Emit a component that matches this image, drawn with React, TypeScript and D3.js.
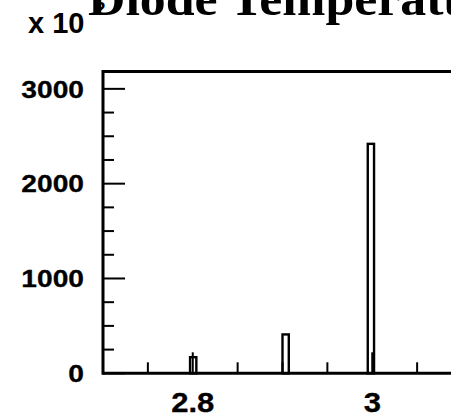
import React from "react";
import * as d3 from "d3";

const binLo = [2.797, 2.9, 2.995];
const binHi = [2.804, 2.907, 3.002];
const counts = [170, 410, 2420];
const xMajorTicks = [2.8, 3.0];
const xMinorTicks = [2.75, 2.85, 2.9, 2.95, 3.05];
const yMajorTicks = [0, 1000, 2000, 3000];
const yMinorTicks = [250, 500, 750, 1250, 1500, 1750, 2250, 2500, 2750];
const xLabels = ["2.8", "3"];
const yLabels = ["0", "1000", "2000", "3000"];
const title = "Diode Temperature";

const W = 451;
const H = 417;
const left = 103;
const right = 462;
const top = 71.5;
const bottom = 373.3;

export default function App() {
  const x = d3.scaleLinear().domain([2.7, 3.1]).range([left, right]);
  const y = d3.scaleLinear().domain([0, 3183]).range([bottom, top]);
  const sans = "'Liberation Sans', Arial, Helvetica, sans-serif";
  const serif = "'Liberation Serif', 'Times New Roman', serif";
  const sx = 1.15;
  return (
    <svg width={W} height={H} style={{ position: "absolute", left: 0, top: 0, background: "#fff" }}>
      <rect x={0} y={0} width={W} height={H} fill="#fff" />
      {/* bars */}
      {counts.map((c, i) => (
        <rect
          key={i}
          x={x(binLo[i])}
          y={y(c)}
          width={x(binHi[i]) - x(binLo[i])}
          height={y(0) - y(c)}
          fill="#fff"
          stroke="#000"
          strokeWidth={2.4}
        />
      ))}
      {/* x ticks */}
      {xMajorTicks.map((t, i) => (
        <line key={"xM" + i} x1={x(t)} x2={x(t)} y1={bottom} y2={bottom - 21} stroke="#000" strokeWidth={2} />
      ))}
      {xMinorTicks.map((t, i) => (
        <line key={"xm" + i} x1={x(t)} x2={x(t)} y1={bottom} y2={bottom - 11} stroke="#000" strokeWidth={2} />
      ))}
      {/* y ticks */}
      {yMajorTicks.map((t, i) => (
        <line key={"yM" + i} x1={left} x2={left + 22} y1={y(t)} y2={y(t)} stroke="#000" strokeWidth={2} />
      ))}
      {yMinorTicks.map((t, i) => (
        <line key={"ym" + i} x1={left} x2={left + 11} y1={y(t)} y2={y(t)} stroke="#000" strokeWidth={2} />
      ))}
      {/* frame */}
      <line x1={left} x2={W + 5} y1={top} y2={top} stroke="#000" strokeWidth={3} />
      <line x1={left} x2={W + 5} y1={bottom} y2={bottom} stroke="#000" strokeWidth={3} />
      <line x1={left} x2={left} y1={top - 1.5} y2={bottom + 1.5} stroke="#000" strokeWidth={3} />
      {/* y labels */}
      {yMajorTicks.map((t, i) => (
        <text
          key={"yl" + i}
          transform={`translate(${left - 19},${y(t) + 8.8}) scale(${sx},1)`}
          textAnchor="end"
          fontFamily={sans}
          fontWeight="bold"
          fontSize={24.5}
          fill="#000"
          stroke="#000"
          strokeWidth={0.3}
        >
          {yLabels[i]}
        </text>
      ))}
      {/* x labels */}
      {xMajorTicks.map((t, i) => (
        <text
          key={"xl" + i}
          transform={`translate(${x(t)},${412}) scale(${sx},1)`}
          textAnchor="middle"
          fontFamily={sans}
          fontWeight="bold"
          fontSize={27}
          fill="#000"
          stroke="#000"
          strokeWidth={0.3}
        >
          {xLabels[i]}
        </text>
      ))}
      {/* title */}
      <text
        transform={`translate(88,15) scale(1.08,1)`}
        fontFamily={serif}
        fontWeight="bold"
        fontSize={48}
        fill="#000"
      >
        {title}
      </text>
      {/* exponent */}
      <text transform={`translate(28,33)`} fontFamily={sans} fontWeight="bold" fontSize={29} fill="#000">
        x 10
      </text>
      <text transform={`translate(95,15)`} fontFamily={sans} fontWeight="bold" fontSize={19} fill="#000">
        2
      </text>
    </svg>
  );
}
